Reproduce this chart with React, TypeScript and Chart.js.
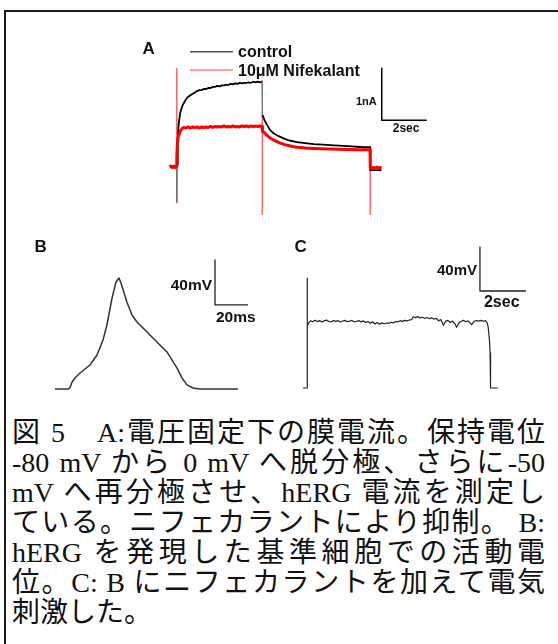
import React, { useEffect, useRef } from "react";
import { Chart, registerables } from "chart.js";
Chart.register(...registerables);

// ---------- Panel A : membrane current (nA) vs time (s) ----------
const ctrlTime = [-0.3, -0.01, 0, 0.01, 0.04, 0.08, 0.15, 0.25, 0.35, 0.45, 0.6, 0.75,
  0.9, 1.0, 1.1, 1.2, 1.3, 1.4, 1.5, 1.6, 1.7, 1.8, 1.9, 2.0, 2.1, 2.2, 2.3, 2.4, 2.5, 2.6, 2.7, 2.8, 2.9, 3.0,
  3.1, 3.2, 3.3, 3.4, 3.5, 3.6, 3.7, 3.79,
  3.81, 3.9, 4.0, 4.15, 4.3, 4.45, 4.6, 4.8, 5.0, 5.35, 5.7, 6.1, 6.5, 6.8, 7.2, 7.6, 8.0, 8.3, 8.59,
  8.6, 8.8, 9.1];
const ctrlCurrent = [0, 0, -0.67, 0.05, 0.52, 0.81, 1.04, 1.18, 1.26, 1.33, 1.38, 1.42,
  1.46, 1.48, 1.48, 1.50, 1.50, 1.52, 1.52, 1.54, 1.54, 1.56, 1.55, 1.57, 1.57, 1.58, 1.58, 1.60, 1.59, 1.61, 1.60, 1.62, 1.61, 1.62,
  1.62, 1.63, 1.62, 1.64, 1.63, 1.64, 1.63, 1.64,
  1.00, 0.90, 0.82, 0.71, 0.65, 0.61, 0.58, 0.54, 0.51, 0.48, 0.46, 0.44, 0.43, 0.42, 0.41, 0.40, 0.39, 0.38, 0.38,
  -0.06, -0.06, -0.06];
// segments of the control trace that are fast transients (drawn thin)
const ctrlFastSegments = [1, 2, 41];

const nifeTime = [-0.32, -0.26, -0.2, -0.14, -0.08, -0.03, 0, 0.02, 0.06, 0.15, 0.22,
  0.3, 0.4, 0.5, 0.6, 0.7, 0.8, 0.9, 1.0, 1.1, 1.2, 1.3, 1.4, 1.5, 1.6, 1.7, 1.8, 1.9, 2.0, 2.1, 2.2, 2.3, 2.4,
  2.5, 2.6, 2.7, 2.8, 2.9, 3.0, 3.1, 3.2, 3.3, 3.4, 3.5, 3.6, 3.7, 3.79,
  3.81, 3.9, 4.0, 4.15, 4.3, 4.45, 4.6, 4.8, 5.0, 5.2, 5.35, 5.5, 5.7, 5.9, 6.1, 6.4, 6.8, 7.2, 7.6, 8.0, 8.3, 8.59,
  8.6, 8.66, 8.72, 8.78, 8.84, 8.9, 8.96, 9.02, 9.1];
const nifeCurrent = [0.0, 0.02, -0.01, 0.02, -0.01, 0.01, 0.19, 0.40, 0.58, 0.69, 0.73,
  0.76, 0.75, 0.77, 0.75, 0.77, 0.76, 0.77, 0.75, 0.77, 0.76, 0.77, 0.76, 0.78, 0.76, 0.78, 0.77, 0.78, 0.77, 0.79, 0.77, 0.78, 0.77,
  0.79, 0.77, 0.78, 0.77, 0.79, 0.78, 0.79, 0.77, 0.79, 0.78, 0.79, 0.78, 0.79, 0.78,
  0.69, 0.66, 0.61, 0.56, 0.52, 0.49, 0.46, 0.43, 0.41, 0.39, 0.38, 0.375, 0.365, 0.36, 0.355, 0.35, 0.345, 0.34, 0.335, 0.33, 0.33, 0.33,
  -0.02, 0.0, -0.03, -0.01, -0.03, 0.0, -0.03, -0.01, -0.02];

// capacitive transients (gaps marked with null)
const transientTime = [0, 0, 1.9, 3.8, 3.8, 6.2, 8.6, 8.6];
const transientCurrent = [1.9, -0.7, null, 1.67, -0.92, null, 0.38, -0.92];

// scale bar A: 1 nA / 2 sec
const barATime = [9.11, 9.11, 11.11];
const barACurrent = [1.9, 0.9, 0.9];

// ---------- Panel B : action potential, mV vs ms ----------
const apTime = [-9.1, -1.2, 0, 1.2, 3.0, 6.1, 12.1, 16.4, 20.0, 22.4, 25.5, 27.9, 29.7, 30.9, 34.5, 37.6,
  40.6, 45.5, 50.3, 54.5, 58.8, 61.8, 64.8, 67.9, 70.9, 74.5, 78.8, 101.8];
const apVoltage = [-80, -80, -79, -74, -70.2, -65.8, -58.7, -49.8, -36.4, -23.1, 0.9, 15.1, 18.7, 14.2, -2.7, -14.2,
  -20.4, -27.6, -34.7, -40.9, -47.1, -54.2, -61.3, -70.2, -76.4, -79.1, -80, -80];
// scale bar B: 40 mV / 20 ms
const barBTime = [87.9, 87.9, 107.9];
const barBVoltage = [34.7, -5.3, -5.3];

// ---------- Panel C : with nifekalant, mV vs s ----------
const cTime = [-0.17, 0, 0.005, 0.02, 0.06, 0.15, 0.25, 0.35, 0.45, 0.55, 0.65, 0.75, 0.85, 0.95, 1.05, 1.15,
  1.25, 1.35, 1.45, 1.55, 1.65, 1.75, 1.85, 1.95, 2.05, 2.15, 2.25, 2.35, 2.45, 2.55, 2.65, 2.75, 2.85, 2.95,
  3.05, 3.15, 3.25, 3.35, 3.45, 3.55, 3.65, 3.75, 3.85, 3.95, 4.05, 4.15, 4.25, 4.35, 4.45, 4.55, 4.62, 4.72,
  4.82, 4.92, 5.02, 5.12, 5.22, 5.32, 5.42, 5.52, 5.62, 5.72, 5.82, 5.93, 6.03, 6.13, 6.23, 6.33, 6.43, 6.5,
  6.6, 6.7, 6.8, 6.9, 7.0, 7.08, 7.16, 7.26, 7.36, 7.46, 7.56, 7.66, 7.76, 7.83, 7.88, 7.93, 7.96, 7.98, 8.3];
const cVoltage = [-80, -80, 20, -24, -21, -19, -19.8, -18.4, -19.6, -18.7, -19.9, -19.0, -18.3, -19.5, -19.9, -18.6,
  -19.4, -18.8, -20.0, -19.1, -18.5, -19.7, -19.2, -18.6, -19.8, -19.3, -18.7, -19.9, -19.0, -20.4, -19.6, -21.2, -19.8, -21.8,
  -20.5, -22.0, -20.8, -21.6, -20.9, -21.3, -20.2, -20.8, -19.5, -19.9, -18.8, -19.4, -18.5, -19.0, -18.2, -17.8, -15.2, -16.0,
  -15.1, -16.3, -15.6, -16.8, -15.9, -17.0, -16.2, -17.5, -16.6, -18.9, -17.8, -23.0, -19.2, -18.5, -20.4, -19.1, -21.6, -24.8,
  -21.0, -19.6, -18.4, -19.8, -18.9, -20.6, -22.4, -19.5, -18.6, -19.2, -18.5, -19.3, -18.8, -20.5, -25.2, -36, -48, -80, -80];
// scale bar C: 40 mV / 2 sec
const barCTime = [7.52, 7.52, 9.52];
const barCVoltage = [48.2, 8.2, 8.2];

const captionLines = [
  "図 5\u3000A:電圧固定下の膜電流。保持電位",
  "-80 mV から 0 mV へ脱分極、さらに-50",
  "mV へ再分極させ、hERG 電流を測定し",
  "ている。ニフェカラントにより抑制。 B:",
  "hERG を発現した基準細胞での活動電",
  "位。C: B にニフェカラントを加えて電気",
  "刺激した。",
];

const SANS = '"Liberation Sans", Arial, sans-serif';

function pts(xs: number[], ys: (number | null)[]) {
  return xs.map((x, i) => ({ x, y: ys[i] }));
}

function makeChart(canvas: HTMLCanvasElement, datasets: any[], xr: number[], yr: number[], draw: (c: any) => void) {
  return new Chart(canvas, {
    type: "line",
    data: { datasets },
    options: {
      animation: false,
      responsive: false,
      devicePixelRatio: 1,
      events: [],
      layout: { padding: 0 },
      plugins: { legend: { display: false }, tooltip: { enabled: false } },
      elements: { point: { radius: 0 }, line: { tension: 0 } },
      scales: {
        x: { type: "linear", min: xr[0], max: xr[1], display: false },
        y: { type: "linear", min: yr[0], max: yr[1], display: false },
      },
    },
    plugins: [{ id: "labels", afterDraw: (c: any) => draw(c) }],
  } as any);
}

function ds(data: any[], color: string, width: number, order: number, extra: any = {}) {
  return { data, borderColor: color, borderWidth: width, fill: false, spanGaps: false, clip: false, order, borderJoinStyle: "round", ...extra };
}

export default function App() {
  const refA = useRef<HTMLCanvasElement>(null);
  const refB = useRef<HTMLCanvasElement>(null);
  const refC = useRef<HTMLCanvasElement>(null);

  useEffect(() => {
    const charts: Chart[] = [];
    charts.push(
      makeChart(
        refA.current!,
        [
          ds(pts(nifeTime, nifeCurrent), "#ff0000", 3, 0),
          ds(pts(ctrlTime, ctrlCurrent), "#000000", 1.8, 1, {
            segment: {
              borderColor: (s: any) => (ctrlFastSegments.includes(s.p0DataIndex) ? "#777777" : undefined),
              borderWidth: (s: any) => (ctrlFastSegments.includes(s.p0DataIndex) ? 1 : undefined),
            },
          }),
          ds(pts(transientTime, transientCurrent), "rgba(255,60,60,0.55)", 1, 2),
          ds(pts(barATime, barACurrent), "#000000", 1.5, 3),
        ],
        [-2.08, 11.7],
        [-1.115, 2.635],
        (c) => {
          const ctx = c.ctx;
          const xs = c.scales.x, ys = c.scales.y;
          ctx.save();
          ctx.fillStyle = "#111";
          ctx.textBaseline = "alphabetic";
          ctx.font = `bold 17px ${SANS}`;
          ctx.fillText("A", 12.5, 23.5);
          // legend
          ctx.lineWidth = 1.5;
          ctx.strokeStyle = "#555";
          ctx.beginPath(); ctx.moveTo(60, 21.7); ctx.lineTo(103, 21.7); ctx.stroke();
          ctx.strokeStyle = "rgba(255,40,40,0.6)";
          ctx.beginPath(); ctx.moveTo(60, 40); ctx.lineTo(103, 40); ctx.stroke();
          ctx.font = `bold 16px ${SANS}`;
          ctx.fillText("control", 108, 26.7);
          ctx.fillText("10\u03bcM Nifekalant", 108, 45.7);
          // scale labels
          const bx = xs.getPixelForValue(barATime[0]);
          const by = ys.getPixelForValue(barACurrent[1]);
          ctx.font = `bold 11px ${SANS}`;
          ctx.textAlign = "right";
          ctx.fillText("1nA", bx - 5, by - 15);
          ctx.textAlign = "left";
          ctx.font = `bold 12px ${SANS}`;
          ctx.fillText("2sec", bx + 11, by + 12);
          ctx.restore();
        }
      )
    );
    charts.push(
      makeChart(
        refB.current!,
        [
          ds(pts(apTime, apVoltage), "#333333", 1.5, 0),
          ds(pts(barBTime, barBVoltage), "#222222", 1.3, 1),
        ],
        [-30.3, 127.3],
        [-89.8, 65.8],
        (c) => {
          const ctx = c.ctx;
          const xs = c.scales.x, ys = c.scales.y;
          ctx.save();
          ctx.fillStyle = "#111";
          ctx.font = `bold 17px ${SANS}`;
          ctx.fillText("B", 14.5, 27);
          const bx = xs.getPixelForValue(barBTime[0]);
          const by = ys.getPixelForValue(barBVoltage[1]);
          ctx.font = `bold 15.5px ${SANS}`;
          ctx.textAlign = "right";
          ctx.fillText("40mV", bx - 3, by - 15);
          ctx.textAlign = "left";
          ctx.fillText("20ms", bx + 1, by + 17);
          ctx.restore();
        }
      )
    );
    charts.push(
      makeChart(
        refC.current!,
        [
          ds(pts(cTime, cVoltage), "#222222", 1.2, 0),
          ds(pts(barCTime, barCVoltage), "#222222", 1.3, 1),
        ],
        [-0.957, 10.13],
        [-90.9, 68.2],
        (c) => {
          const ctx = c.ctx;
          const xs = c.scales.x, ys = c.scales.y;
          ctx.save();
          ctx.fillStyle = "#111";
          ctx.font = `bold 17px ${SANS}`;
          ctx.fillText("C", 9.5, 27);
          const bx = xs.getPixelForValue(barCTime[0]);
          const by = ys.getPixelForValue(barCVoltage[1]);
          ctx.font = `bold 15px ${SANS}`;
          ctx.textAlign = "right";
          ctx.fillText("40mV", bx - 3, by - 16);
          ctx.textAlign = "left";
          ctx.font = `bold 16px ${SANS}`;
          ctx.fillText("2sec", bx + 4, by + 16);
          ctx.restore();
        }
      )
    );
    return () => charts.forEach((ch) => ch.destroy());
  }, []);

  return (
    <div style={{ position: "fixed", left: 0, top: 0, width: 558, height: 644, background: "#fff", overflow: "hidden" }}>
      <div
        style={{
          position: "absolute", left: 4, top: 10, width: 600, height: 700,
          borderTop: "2px solid #1a1a1a", borderLeft: "2px solid #1a1a1a",
        }}
      />
      <canvas ref={refA} width={310} height={195} style={{ position: "absolute", left: 130, top: 30 }} />
      <canvas ref={refB} width={260} height={175} style={{ position: "absolute", left: 20, top: 225 }} />
      <canvas ref={refC} width={255} height={175} style={{ position: "absolute", left: 285, top: 225 }} />
      <div
        style={{
          position: "absolute", left: 12, top: 418, width: 533,
          fontFamily: '"Liberation Serif", "Noto Sans CJK JP", serif',
          fontSize: 28, color: "#111",
        }}
      >
        {captionLines.map((l, i) => (
          <div
            key={i}
            style={{
              height: 30, lineHeight: "30px",
              textAlign: "justify",
              textAlignLast: i === captionLines.length - 1 ? "left" : "justify",
              whiteSpace: "normal",
            } as any}
          >
            {l}
          </div>
        ))}
      </div>
    </div>
  );
}
